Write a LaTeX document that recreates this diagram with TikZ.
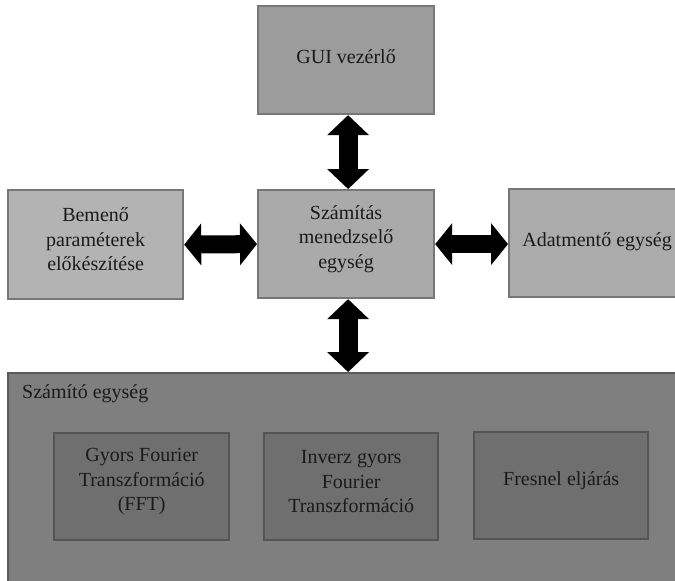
\documentclass[tikz,border=0pt]{standalone}
\usepackage{fontspec}
\setmainfont{Liberation Serif}
\usetikzlibrary{arrows.meta}
\definecolor{guifill}{HTML}{9C9C9C}
\definecolor{leftfill}{HTML}{B3B3B3}
\definecolor{midfill}{HTML}{AAAAAA}
\definecolor{rightfill}{HTML}{ABABAB}
\definecolor{topborder}{HTML}{777777}
\definecolor{bigfill}{HTML}{7F7F7F}
\definecolor{bigborder}{HTML}{5A5A5A}
\definecolor{innerfill}{HTML}{6F6F6F}
\definecolor{innerborder}{HTML}{545454}
\definecolor{txtcol}{HTML}{1A1A1A}
\begin{document}
\begin{tikzpicture}[x=1pt,y=-1pt,
  topbox/.style={draw=topborder, line width=2.2pt, minimum width=176pt, minimum height=108pt, inner sep=0pt, anchor=north west},
  innerbox/.style={draw=innerborder, fill=innerfill, line width=2.4pt, minimum width=174pt, minimum height=107pt, inner sep=0pt, anchor=north west},
  txt/.style={font=\fontsize{20}{24.5}\selectfont, text=txtcol, align=center, inner sep=0pt},
  varrow/.style={line width=19pt, {Triangle[length=20pt 0 0,width=42pt 0 0,line width=0pt 0 0]}-{Triangle[length=20pt 0 0,width=42pt 0 0,line width=0pt 0 0]}},
  harrow/.style={line width=18pt, {Triangle[length=17pt 0 0,width=42pt 0 0,line width=0pt 0 0]}-{Triangle[length=17pt 0 0,width=42pt 0 0,line width=0pt 0 0]}}
]
\useasboundingbox (0,0) rectangle (675,581);
\clip (0,0) rectangle (675,581);
\fill[white] (0,0) rectangle (675,581);

% top row boxes
\node[topbox, fill=guifill] (gui) at (257,5) {};
\node[topbox, fill=midfill] (mid) at (257,189) {};
\node[topbox, fill=leftfill, minimum width=175pt, minimum height=109pt] (left) at (7,189) {};
\node[topbox, fill=rightfill, minimum width=180pt] (right) at (508,188) {};

% big box
\node[draw=bigborder, fill=bigfill, line width=2.4pt, minimum width=700pt, minimum height=230pt, inner sep=0pt, anchor=north west] (big) at (7,372) {};
\node[txt, anchor=base west] (bigt) at (22,398) {Számító egység};

% inner boxes
\node[innerbox, minimum width=175pt] (fft) at (53,432) {};
\node[innerbox] (ifft) at (263,432) {};
\node[innerbox] (fres) at (473,431) {};

% texts
\node[txt, yshift=3pt] (guit) at (gui.center) {GUI vezérlő};
\node[txt, yshift=5pt] (midt) at (mid.center) {Számítás\\menedzselő\\egység};
\node[txt, yshift=5pt] (leftt) at (left.center) {Bemenő\\paraméterek\\előkészítése};
\node[txt, xshift=-2pt, yshift=1pt] (rightt) at (right.center) {Adatmentő egység};
\node[txt, yshift=5pt] (fftt) at (fft.center) {Gyors Fourier\\Transzformáció\\(FFT)};
\node[txt, yshift=5pt] (ifftt) at (ifft.center) {Inverz gyors\\Fourier\\Transzformáció};
\node[txt, yshift=5pt] (frest) at (fres.center) {Fresnel eljárás};

% arrows
\draw[varrow] ([xshift=2pt]gui.south) -- ([xshift=2pt]mid.north);
\draw[varrow] ([xshift=2pt]mid.south) -- ([xshift=2pt]mid.south |- big.north);
\draw[harrow] (left.east) -- (mid.west);
\draw[harrow] (mid.east) -- (mid.east -| right.west);
\end{tikzpicture}
\end{document}
